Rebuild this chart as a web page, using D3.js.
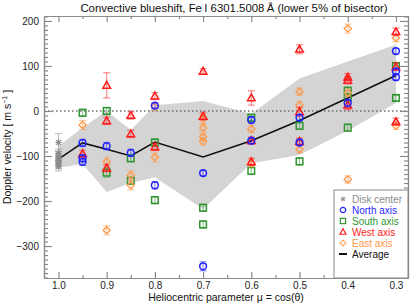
<!DOCTYPE html>
<html>
<head>
<meta charset="utf-8">
<script src="https://cdn.jsdelivr.net/npm/d3@7"></script>
<style>
body { margin: 0; background: #fff; }
text { font-family: "Liberation Sans", Arial, sans-serif; }
</style>
</head>
<body>
<svg id="chart" width="415" height="306"></svg>
<script>
// tick values
var muTicks = [1.0, 0.9, 0.8, 0.7, 0.6, 0.5, 0.4, 0.3];
var muMinor = [0.95, 0.85, 0.75, 0.65, 0.55, 0.45, 0.35];
var vTicks = [-300, -200, -100, 0, 100, 200];

// spread band and average
var bandMu = [1.0, 0.95, 0.9, 0.85, 0.8, 0.7, 0.6, 0.5, 0.4, 0.3];
var bandTop = [-78, -37, 0, -42, 13, 22, -6, 72, 110, 147];
var bandBottom = [-126, -118, -180, -160, -147, -218, -116, -98, -44, 18];
var average = [-107, -71, -85, -100, -69, -102, -66, -21, 29, 79];

// disk center
var diskMu = [1.0, 1.0, 1.0, 1.0, 1.0, 1.0, 1.0, 1.0];
var diskV = [-70, -95, -100, -105, -110, -114, -118, -123];
var diskErr = [20, 10, 10, 10, 10, 10, 10, 10];

// north axis
var northMu = [0.95, 0.95, 0.95, 0.9, 0.85, 0.8, 0.8, 0.7, 0.7, 0.6, 0.6, 0.5, 0.5, 0.4, 0.3, 0.3, 0.3];
var northV = [-71, -105, -113, -78, -93, 12, -165, -138, -345, -20, -66, -15, -70, 18, 133, 88, 75];
var northErr = [8, 8, 8, 8, 8, 6, 8, 6, 10, 6, 6, 6, 6, 8, 6, 6, 6];

// south axis
var southMu = [0.95, 0.9, 0.9, 0.85, 0.85, 0.8, 0.8, 0.7, 0.7, 0.6, 0.6, 0.5, 0.5, 0.4, 0.4, 0.4, 0.3, 0.3];
var southV = [-4, 0, -137, -105, -155, -70, -198, -215, -252, -15, -133, -33, -112, 45, 30, -37, 100, 29];
var southErr = [8, 8, 10, 8, 8, 8, 8, 8, 8, 8, 8, 8, 8, 8, 8, 8, 6, 6];

// west axis
var westMu = [0.95, 0.9, 0.9, 0.9, 0.85, 0.85, 0.8, 0.8, 0.7, 0.7, 0.6, 0.6, 0.6, 0.5, 0.5, 0.5, 0.4, 0.4, 0.4, 0.3, 0.3, 0.3];
var westV = [-95, 57, -22, -127, -10, -51, 33, -80, 88, -12, 29, -66, -113, 137, -2, -68, 75, 68, 13, 176, 98, -24];
var westErr = [8, 28, 8, 8, 8, 8, 8, 8, 6, 8, 16, 8, 8, 10, 10, 8, 8, 8, 10, 8, 8, 8];

// east axis
var eastMu = [0.95, 0.9, 0.9, 0.85, 0.85, 0.8, 0.8, 0.7, 0.7, 0.7, 0.7, 0.6, 0.6, 0.5, 0.5, 0.5, 0.4, 0.4, 0.4, 0.3, 0.3];
var eastV = [-31, -113, -265, -143, -165, 10, -103, -18, -38, -58, -68, -40, -116, 43, 13, -85, 183, 40, -152, 162, -33];
var eastErr = [10, 10, 10, 10, 10, 8, 10, 10, 8, 8, 8, 8, 8, 8, 8, 8, 10, 8, 8, 8, 8];

var legendNames = ["Disk center", "North axis", "South axis", "West axis", "East axis", "Average"];

var colors = {
	disk: "#8c8c8c",
	north: "#1f1fff",
	south: "#2f962f",
	west: "#ff1a1a",
	east: "#ff9848"
};

var width = 415, height = 306;
var margin = { left: 44, right: 7, top: 16, bottom: 28 };
var x0 = margin.left, x1 = width - margin.right;
var y0 = margin.top, y1 = height - margin.bottom;

var svg = d3.select("#chart");

var x = d3.scaleLinear().domain([1.03, 0.275]).range([x0, x1]);
var y = d3.scaleLinear().domain([-371, 211]).range([y1, y0]);

var zip = function (mu, v, e) {
	return mu.map(function (m, i) { return { mu: m, v: v[i], e: e ? e[i] : 0 }; });
};

// band
var bandData = zip(bandMu, bandTop).map(function (d, i) { return { mu: d.mu, top: d.v, bottom: bandBottom[i] }; });
svg.append("path")
    .datum(bandData)
    .attr("fill", "#d4d4d4")
    .attr("d", d3.area()
      .x(function (d) { return x(d.mu); })
      .y0(function (d) { return y(d.bottom); })
      .y1(function (d) { return y(d.top); }));

// zero line
svg.append("line")
    .attr("x1", x0).attr("x2", x1)
    .attr("y1", y(0)).attr("y2", y(0))
    .attr("stroke", "#6f6f6f")
    .attr("stroke-width", 1.4)
    .attr("stroke-dasharray", "1.5,2.5");

// average line
svg.append("path")
    .datum(zip(bandMu, average))
    .attr("fill", "none")
    .attr("stroke", "#111")
    .attr("stroke-width", 1.6)
    .attr("d", d3.line()
      .x(function (d) { return x(d.mu); })
      .y(function (d) { return y(d.v); }));

var symbols = {
	disk: function (g, c) {
		var s = 3.2;
		g.append("path")
		    .attr("d", "M" + (-s) + ",0H" + s + "M0," + (-s) + "V" + s +
		      "M" + (-s * 0.75) + "," + (-s * 0.75) + "L" + (s * 0.75) + "," + (s * 0.75) +
		      "M" + (-s * 0.75) + "," + (s * 0.75) + "L" + (s * 0.75) + "," + (-s * 0.75))
		    .attr("stroke", c).attr("stroke-width", 1.2).attr("fill", "none");
	},
	north: function (g, c) {
		g.append("circle").attr("r", 3.4)
		    .attr("fill", "none").attr("stroke", c).attr("stroke-width", 1.5);
	},
	south: function (g, c) {
		g.append("rect").attr("x", -3.3).attr("y", -3.3).attr("width", 6.6).attr("height", 6.6)
		    .attr("fill", "none").attr("stroke", c).attr("stroke-width", 1.5);
	},
	west: function (g, c) {
		g.append("path").attr("d", "M0,-4L3.8,2.8H-3.8Z")
		    .attr("fill", "none").attr("stroke", c).attr("stroke-width", 1.5);
	},
	east: function (g, c) {
		g.append("path").attr("d", "M0,-3.6L3.6,0L0,3.6L-3.6,0Z")
		    .attr("fill", "none").attr("stroke", c).attr("stroke-width", 1.3);
	}
};

var drawSeries = function (key, data) {
	var c = colors[key];
	var g = svg.append("g").attr("class", key);
	var bars = g.selectAll("g.err").data(data).enter()
	  .append("g").attr("class", "err")
	    .attr("stroke", c).attr("stroke-opacity", 0.5).attr("stroke-width", 1.2);
	bars.append("line")
	    .attr("x1", function (d) { return x(d.mu); })
	    .attr("x2", function (d) { return x(d.mu); })
	    .attr("y1", function (d) { return y(d.v - d.e); })
	    .attr("y2", function (d) { return y(d.v + d.e); });
	[-1, 1].forEach(function (sgn) {
		bars.append("line")
		    .attr("x1", function (d) { return x(d.mu) - 3.5; })
		    .attr("x2", function (d) { return x(d.mu) + 3.5; })
		    .attr("y1", function (d) { return y(d.v + sgn * d.e); })
		    .attr("y2", function (d) { return y(d.v + sgn * d.e); });
	});
	g.selectAll("g.pt").data(data).enter()
	  .append("g").attr("class", "pt")
	    .attr("transform", function (d) { return "translate(" + x(d.mu) + "," + y(d.v) + ")"; })
	  .each(function () { symbols[key](d3.select(this), c); });
};

drawSeries("disk", zip(diskMu, diskV, diskErr));
drawSeries("south", zip(southMu, southV, southErr));
drawSeries("east", zip(eastMu, eastV, eastErr));
drawSeries("west", zip(westMu, westV, westErr));
drawSeries("north", zip(northMu, northV, northErr));

// frame and ticks
var axisColor = "#8a8a8a";
var styleAxis = function (g) {
	g.selectAll("path.domain").attr("stroke", axisColor).attr("stroke-width", 1.2);
	g.selectAll(".tick line").attr("stroke", axisColor).attr("stroke-width", 1.2);
	g.selectAll(".tick text").attr("fill", "#222").style("font-size", "10px")
	    .style("font-family", "'Liberation Sans', Arial, sans-serif");
};

var fmtMu = d3.format(".1f");
var fmtV = function (d) { return d < 0 ? "\u2212" + Math.abs(d) : d; };
var vMinor = d3.range(-370, 211, 10).filter(function (d) { return d % 100 !== 0; });

svg.append("g").attr("transform", "translate(0," + y1 + ")")
    .call(d3.axisBottom(x).tickValues(muTicks).tickFormat(fmtMu).tickSizeInner(-6).tickSizeOuter(0).tickPadding(4))
    .call(styleAxis);
svg.append("g").attr("transform", "translate(0," + y1 + ")")
    .call(d3.axisBottom(x).tickValues(muMinor).tickFormat("").tickSizeInner(-3).tickSizeOuter(0))
    .call(styleAxis);
svg.append("g").attr("transform", "translate(0," + y0 + ")")
    .call(d3.axisTop(x).tickValues(muTicks).tickFormat("").tickSizeInner(-6).tickSizeOuter(0))
    .call(styleAxis);
svg.append("g").attr("transform", "translate(0," + y0 + ")")
    .call(d3.axisTop(x).tickValues(muMinor).tickFormat("").tickSizeInner(-3).tickSizeOuter(0))
    .call(styleAxis);

svg.append("g").attr("transform", "translate(" + x0 + ",0)")
    .call(d3.axisLeft(y).tickValues(vTicks).tickFormat(fmtV).tickSizeInner(-8).tickSizeOuter(0).tickPadding(5))
    .call(styleAxis);
svg.append("g").attr("transform", "translate(" + x0 + ",0)")
    .call(d3.axisLeft(y).tickValues(vMinor).tickFormat("").tickSizeInner(-4).tickSizeOuter(0))
    .call(styleAxis);
svg.append("g").attr("transform", "translate(" + x1 + ",0)")
    .call(d3.axisRight(y).tickValues(vTicks).tickFormat("").tickSizeInner(-8).tickSizeOuter(0))
    .call(styleAxis);
svg.append("g").attr("transform", "translate(" + x1 + ",0)")
    .call(d3.axisRight(y).tickValues(vMinor).tickFormat("").tickSizeInner(-4).tickSizeOuter(0))
    .call(styleAxis);

// legend
var lg = svg.append("g").attr("transform", "translate(334,190)");
lg.append("rect")
    .attr("width", x1 - 334).attr("height", y1 - 190)
    .attr("fill", "#fff").attr("stroke", axisColor).attr("stroke-width", 1);
var legendKeys = ["disk", "north", "south", "west", "east", "avg"];
legendKeys.forEach(function (k, i) {
	var row = lg.append("g").attr("transform", "translate(9," + (9 + i * 11) + ")");
	if (k === "avg") {
		row.append("line").attr("x1", -4).attr("x2", 4)
		    .attr("stroke", "#111").attr("stroke-width", 2);
	} else {
		var sg = row.append("g").attr("transform", "scale(0.8)");
		symbols[k](sg, colors[k]);
	}
	row.append("text")
	    .attr("x", 9).attr("y", 3.6)
	    .style("font-size", "10px")
	    .attr("fill", k === "avg" ? "#111" : colors[k])
	    .text(legendNames[i]);
});

// titles
svg.append("text")
    .attr("x", 234).attr("y", 12)
    .attr("text-anchor", "middle")
    .style("font-size", "11.4px")
    .attr("fill", "#111")
    .text("Convective blueshift, Fe\u2009I 6301.5008\u2009\u00c5 (lower 5% of bisector)");

svg.append("text")
    .attr("x", (x0 + x1) / 2).attr("y", 301)
    .attr("text-anchor", "middle")
    .style("font-size", "10.5px")
    .attr("fill", "#111")
    .text("Heliocentric parameter \u03bc = cos(\u03b8)");

var yl = svg.append("text")
    .attr("transform", "translate(11," + ((y0 + y1) / 2) + ") rotate(-90)")
    .attr("text-anchor", "middle")
    .style("font-size", "10.5px")
    .attr("fill", "#111");
yl.append("tspan").text("Doppler velocity [ m s");
yl.append("tspan").attr("dy", -4).style("font-size", "7px").text("\u22121");
yl.append("tspan").attr("dy", 4).text(" ]");
</script>
</body>
</html>
